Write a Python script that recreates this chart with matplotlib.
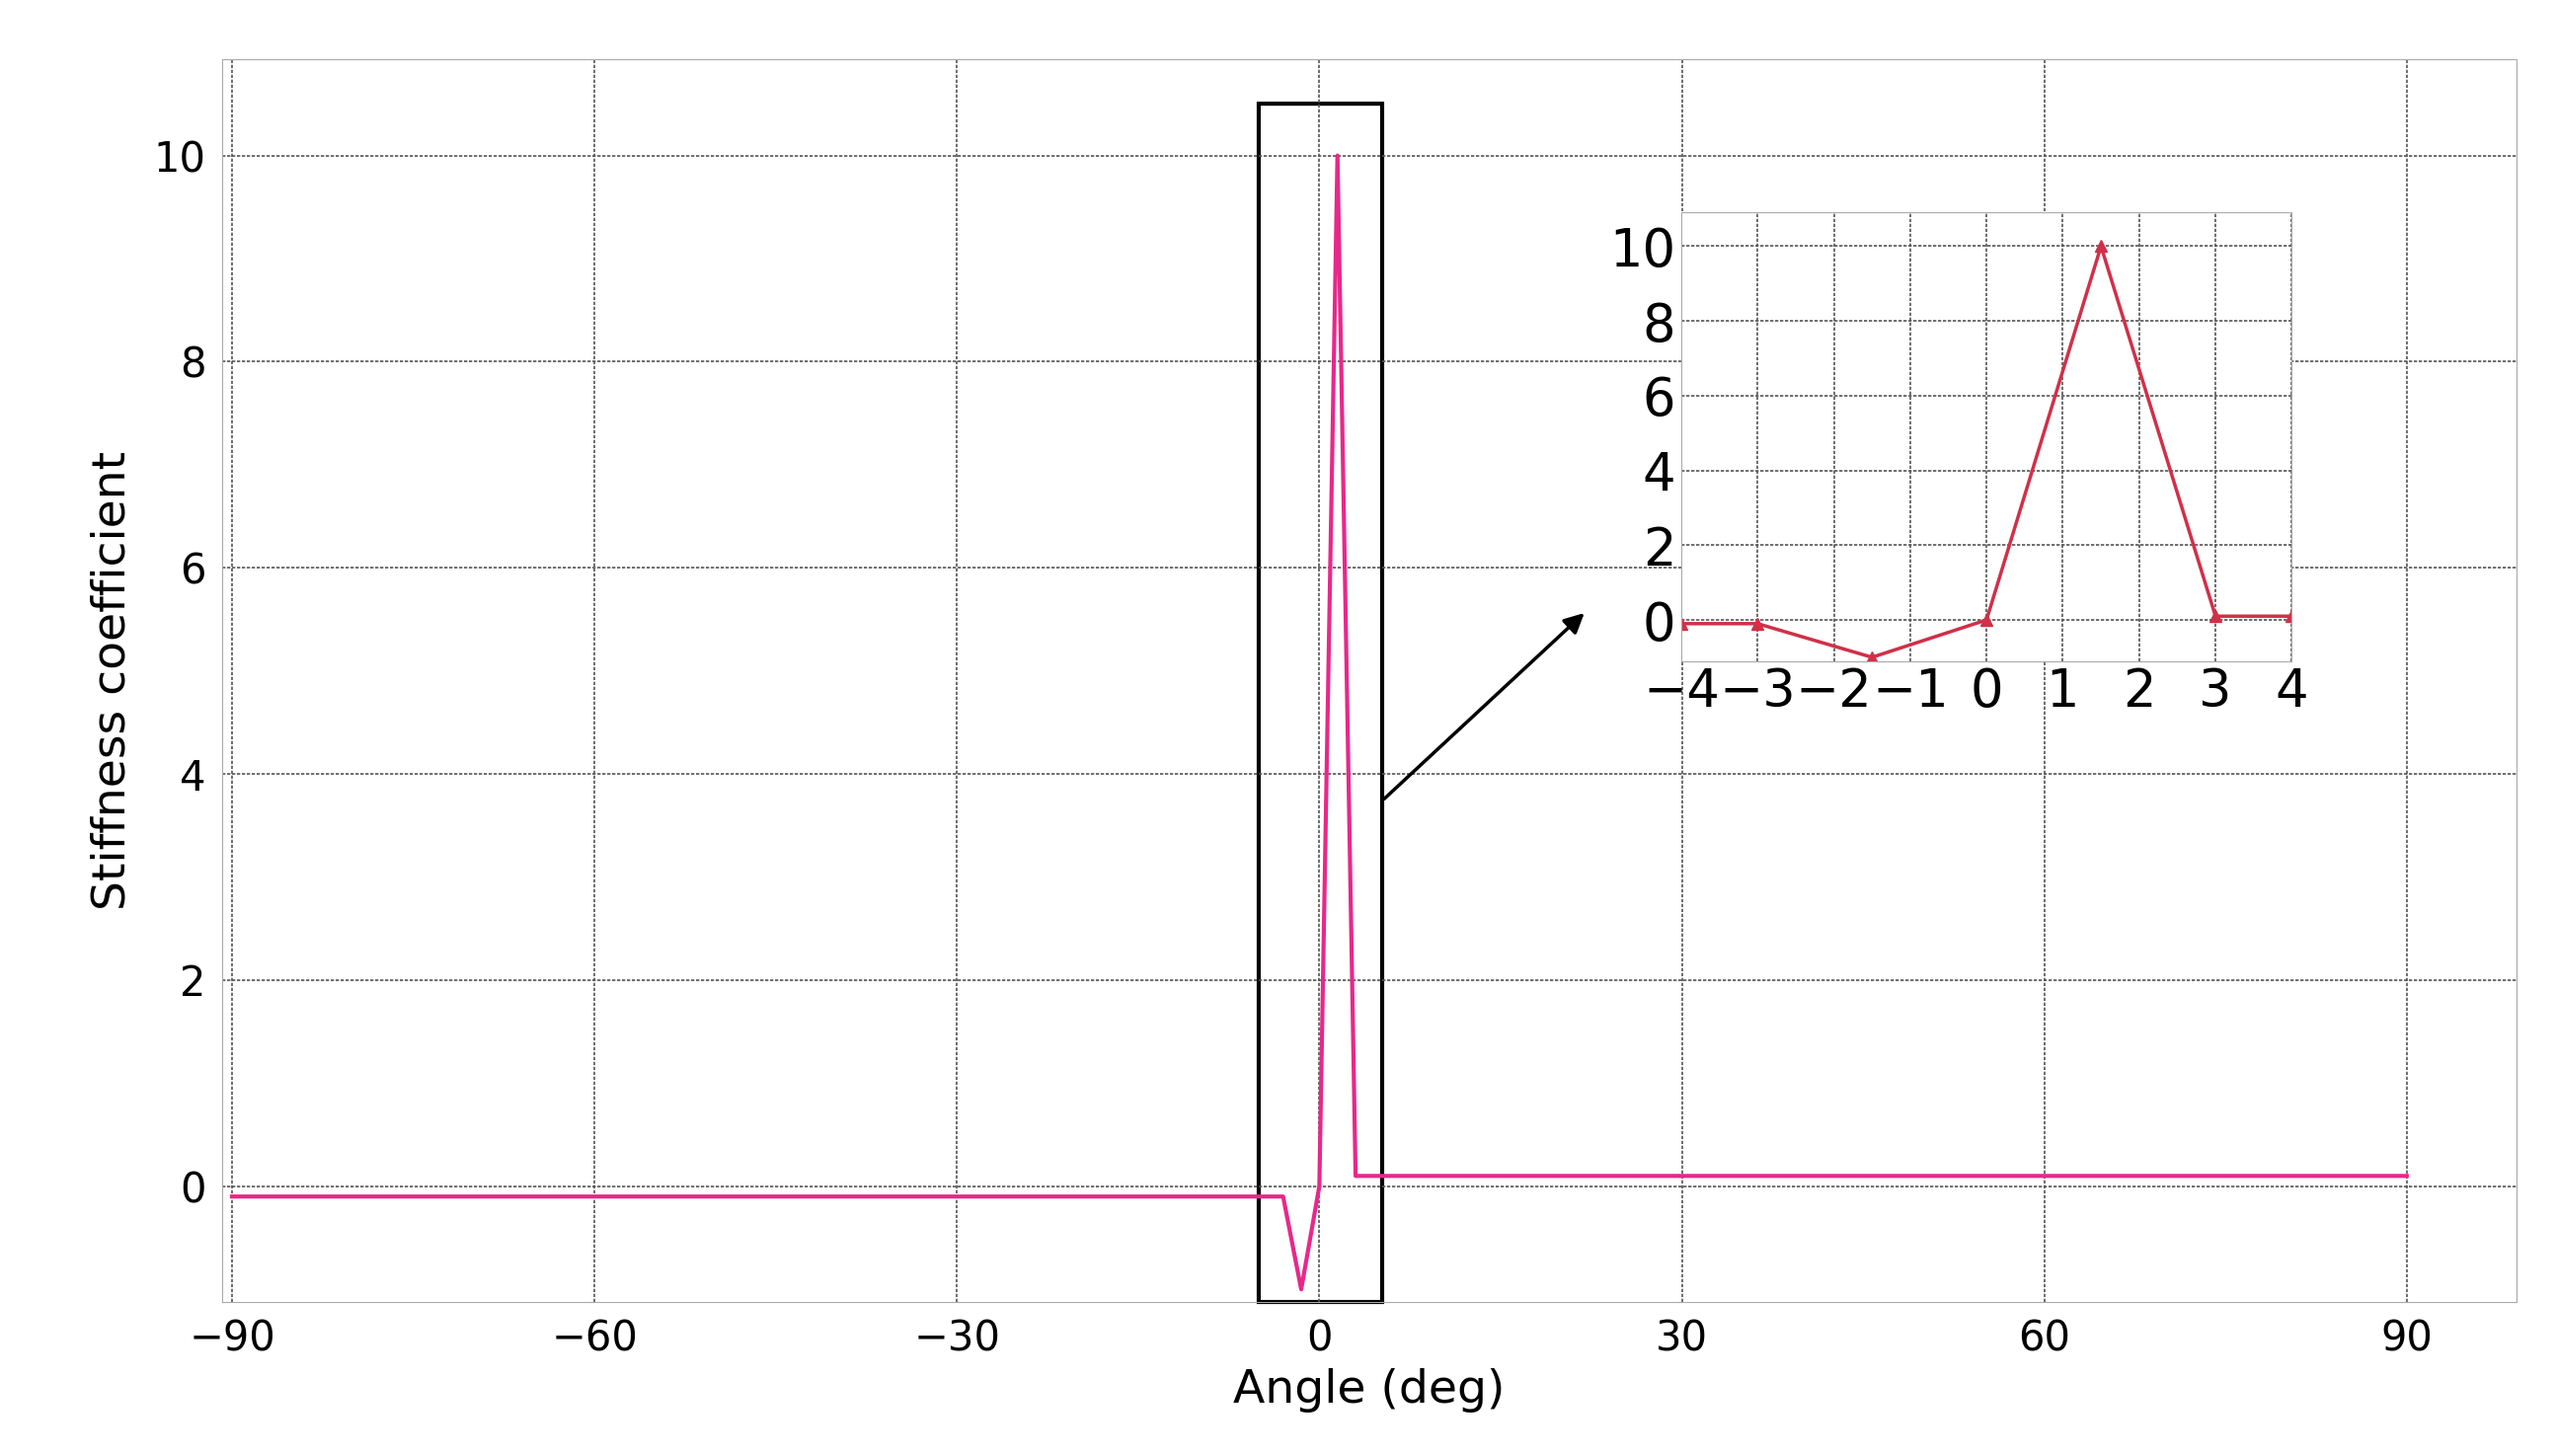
import matplotlib
matplotlib.use("Agg")
import matplotlib.pyplot as plt
from matplotlib.patches import Rectangle

angle = [-90, -3, -1.5, 0, 1.5, 3, 90]
stiff = [-0.1, -0.1, -1.0, 0.0, 10.0, 0.1, 0.1]
xticks = [-90, -60, -30, 0, 30, 60, 90]
yticks = [0, 2, 4, 6, 8, 10]
in_angle = [-4, -3, -1.5, 0, 1.5, 3, 4]
in_stiff = [-0.1, -0.1, -1.0, 0.0, 10.0, 0.1, 0.1]

plt.rcParams['font.family'] = ['DejaVu Sans']
fig = plt.figure(figsize=(25.88, 14.75), dpi=100)
ax = fig.add_axes([0.087, 0.106, 0.898, 0.853])
ax.plot(angle, stiff, color='#e8288a', lw=3)
ax.set_xlim(-90.8, 99.1)
ax.set_ylim(-1.12, 10.93)
ax.set_xticks(xticks)
ax.set_yticks(yticks)
ax.set_xticklabels([str(t).replace('-', '\u2212') for t in xticks])
ax.tick_params(labelsize=30, length=0, pad=12)
ax.grid(True, color='#555555', linestyle=(0, (2, 1)), lw=1.2)
for s in ax.spines.values():
    s.set_color('#aaaaaa')
ax.set_xlabel('Angle (deg)', fontsize=34, labelpad=6)
ax.set_ylabel('Stiffness coefficient', fontsize=34, labelpad=14)
ax.add_patch(Rectangle((-5, -1.12), 10.2, 11.62, fill=False, ec='black', lw=3, clip_on=False))
ax.annotate('', xy=(22.1, 5.58), xytext=(5.2, 3.74),
            arrowprops=dict(arrowstyle='-|>', color='black', lw=2.5, mutation_scale=30))

ins = fig.add_axes([0.658, 0.546, 0.239, 0.308])
ins.plot(in_angle, in_stiff, color='#d03048', lw=2.5, marker='^', markersize=8)
ins.set_xlim(-4, 4)
ins.set_ylim(-1.1, 10.9)
ins.set_xticks(range(-4, 5))
ins.set_xticklabels([str(t).replace('-', '\u2212') for t in range(-4, 5)])
ins.set_yticks(yticks)
ins.tick_params(labelsize=38, length=0, pad=4)
ins.grid(True, color='#555555', linestyle=(0, (2, 1)), lw=1.2)
for s in ins.spines.values():
    s.set_color('#aaaaaa')

fig.savefig('out.png')
